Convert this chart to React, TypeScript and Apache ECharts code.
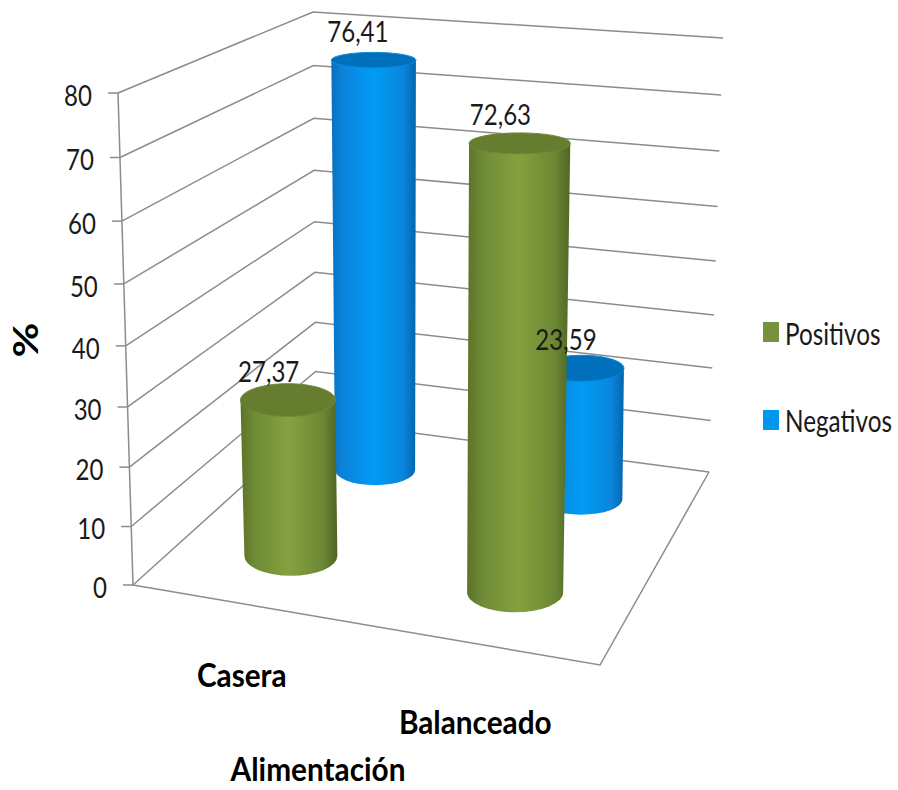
import React, { useEffect, useRef } from "react";
import * as echarts from "echarts";

// Chart data
const categories = ["Casera", "Balanceado"];
const positivos = [27.37, 72.63];
const negativos = [76.41, 23.59];
const axisTicks = [0, 10, 20, 30, 40, 50, 60, 70, 80];
const axisMax = 80;
const seriesNames = ["Positivos", "Negativos"];
const seriesColors = ["#76923c", "#0096f0"];
const axisTitle = "%";
const categoryTitle = "Alimentación";

// Scene geometry: the corners of the floor and of the walls at axisMax
const FLOOR = { left: [133, 585], front: [600, 665], right: [709, 472], back: [316, 420] };
const WALL_TOP = { left: [118, 93], back: [313, 12], right: [723, 38] };
// Full-scale height and horizontal lean of a column at each floor corner
const COLUMN_H = { left: 485, front: 524, right: 465, back: 390 };
const COLUMN_LEAN = { left: -22, front: 15.4, right: 1.9, back: 2.2 };
const FORESHORTEN = 0.056;
const BASE_LIFT = 6;

const FONT = "Lato, sans-serif";
const NARROW_X = 0.83;
const BOLD_X = 0.93;
const LINE = "#8c8c8c";
const INK = "#1a1a1a";

const bilinear = (l: number, f: number, r: number, b: number, u: number, v: number) =>
  (1 - u) * (1 - v) * l + u * (1 - v) * f + u * v * r + (1 - u) * v * b;

const corners = (c: { left: number; front: number; right: number; back: number }, u: number, v: number) =>
  bilinear(c.left, c.front, c.right, c.back, u, v);

const floorPoint = (u: number, v: number) => [
  bilinear(FLOOR.left[0], FLOOR.front[0], FLOOR.right[0], FLOOR.back[0], u, v),
  bilinear(FLOOR.left[1], FLOOR.front[1], FLOOR.right[1], FLOOR.back[1], u, v),
];

// Fraction of the axis reached by a value
const fraction = (api: any, value: number) => {
  const zero = api.coord([0, 0])[1];
  const full = api.coord([0, axisMax])[1];
  const s = (zero - api.coord([0, value])[1]) / (zero - full);
  return s * (1 - FORESHORTEN * (1 - s));
};

const mix = (a: number[], b: number[], s: number) => [a[0] + (b[0] - a[0]) * s, a[1] + (b[1] - a[1]) * s];

const cylinderGeometry = (params: any, api: any, depth: number) => {
  const cs = params.coordSys;
  const cat = api.value(0);
  const val = api.value(1);
  const u = (api.coord([cat, 0])[0] - cs.x) / cs.width;
  const s = fraction(api, val);
  const p = floorPoint(u, depth);
  const h = s * corners(COLUMN_H, u, depth);
  const lean = s * corners(COLUMN_LEAN, u, depth);
  const bx = p[0] + 4 * depth - 1;
  const by = p[1] - BASE_LIFT;
  const tx = bx + lean;
  const ty = by - h;
  const rxB = 50.5 - 13 * depth + 3 * (u - 0.5);
  const ryB = 22 - 9 * depth;
  const rxT = rxB * (1 + 0.06 * s);
  const ryT = ryB * (1 - 0.52 * s);
  return { bx, by, tx, ty, rxB, ryB, rxT, ryT };
};

const shade = (stops: [number, string][]) => ({
  type: "linear",
  x: 0,
  y: 0,
  x2: 1,
  y2: 0,
  colorStops: stops.map(([offset, color]) => ({ offset, color })),
});

const cylinderRenderer = (depth: number, body: [number, string][], cap: string, rim: string) => (params: any, api: any) => {
  const g = cylinderGeometry(params, api, depth);
  const d =
    `M${g.bx - g.rxB} ${g.by} L${g.tx - g.rxT} ${g.ty} L${g.tx + g.rxT} ${g.ty} L${g.bx + g.rxB} ${g.by} ` +
    `A${g.rxB} ${g.ryB} 0 0 1 ${g.bx - g.rxB} ${g.by} Z`;
  return {
    type: "group",
    children: [
      { type: "path", shape: { pathData: d }, style: { fill: shade(body) } },
      {
        type: "ellipse",
        shape: { cx: g.tx, cy: g.ty, rx: g.rxT, ry: g.ryT },
        style: { fill: cap, stroke: rim, lineWidth: 1 },
      },
    ],
  };
};

const renderWall = (params: any, api: any) => {
  const val = api.value(1);
  const s = fraction(api, val);
  const l = mix(FLOOR.left, WALL_TOP.left, s);
  const b = mix(FLOOR.back, WALL_TOP.back, s);
  const r = mix(FLOOR.right, WALL_TOP.right, s);
  const lineStyle = { stroke: LINE, lineWidth: 1.5, fill: "none" };
  const children: any[] = [
    { type: "polyline", shape: { points: [l, b, r] }, style: lineStyle },
    { type: "line", shape: { x1: l[0] - 10, y1: l[1], x2: l[0], y2: l[1] }, style: lineStyle },
    {
      type: "text",
      x: l[0] - 26,
      y: l[1] + 2,
      scaleX: NARROW_X,
      style: { text: String(val), font: `29px ${FONT}`, fill: INK, align: "right", verticalAlign: "middle" },
    },
  ];
  if (val === 0) {
    children.push({
      type: "polyline",
      shape: { points: [FLOOR.left, FLOOR.front, FLOOR.right] },
      style: lineStyle,
    });
    children.push({
      type: "line",
      shape: { x1: FLOOR.left[0], y1: FLOOR.left[1], x2: WALL_TOP.left[0], y2: WALL_TOP.left[1] },
      style: lineStyle,
    });
  }
  return { type: "group", children };
};

const renderCategoryLabel = (params: any, api: any) => {
  const cs = params.coordSys;
  const u = (api.coord([api.value(0), 0])[0] - cs.x) / cs.width;
  const p = floorPoint(u, 0);
  return {
    type: "text",
    x: p[0] - 8,
    y: p[1] + 66 + 15 * u,
    scaleX: BOLD_X,
    style: {
      text: categories[api.value(0)],
      font: `bold 32px ${FONT}`,
      fill: "#000",
      align: "center",
      verticalAlign: "middle",
    },
  };
};

const labelRenderer = (depth: number) => (params: any, api: any) => {
  const g = cylinderGeometry(params, api, depth);
  return {
    type: "text",
    x: g.tx - 21 + 7 * depth,
    y: g.ty - 29,
    scaleX: NARROW_X,
    style: {
      text: api.value(1).toFixed(2).replace(".", ","),
      font: `29px ${FONT}`,
      fill: INK,
      align: "center",
      verticalAlign: "middle",
    },
  };
};

const pointsOf = (values: number[]) => values.map((v, i) => [i, v]);

// Legend keys are laid out by hand because their labels are condensed horizontally
const legendEntries = seriesNames.flatMap((name, i) => [
  {
    type: "rect",
    shape: { x: 763, y: 322 + i * 88, width: 16, height: 20 },
    style: { fill: seriesColors[i] },
  },
  {
    type: "text",
    x: 785,
    y: 333 + i * 87,
    scaleX: 0.81,
    style: { text: name, font: `30px ${FONT}`, fill: INK, align: "left", verticalAlign: "middle" },
  },
]);

export default function App() {
  const ref = useRef<HTMLDivElement>(null);

  useEffect(() => {
    const chart = echarts.init(ref.current!, null, { renderer: "svg" });
    const common = {
      type: "custom",
      coordinateSystem: "cartesian2d",
      clip: false,
      silent: true,
    };
    chart.setOption({
      animation: false,
      backgroundColor: "#ffffff",
      grid: { left: 100, right: 100, top: 100, bottom: 100 },
      xAxis: { type: "category", data: categories, show: false },
      yAxis: { type: "value", min: 0, max: axisMax, interval: 10, show: false },
      graphic: [
        ...legendEntries,
        {
          type: "text",
          x: 25,
          y: 340,
          rotation: Math.PI / 2,
          scaleX: 1.25,
          style: {
            text: axisTitle,
            font: `bold 34px ${FONT}`,
            fill: "#000",
            align: "center",
            verticalAlign: "middle",
          },
        },
        {
          type: "text",
          x: 318,
          y: 769,
          scaleX: BOLD_X,
          style: {
            text: categoryTitle,
            font: `bold 32px ${FONT}`,
            fill: "#000",
            align: "center",
            verticalAlign: "middle",
          },
        },
      ],
      series: [
        {
          ...common,
          name: "Paredes",
          z: 1,
          data: axisTicks.map((t) => [0, t]),
          renderItem: renderWall,
        },
        {
          ...common,
          name: "Categorias",
          z: 1,
          data: categories.map((_, i) => [i, 0]),
          renderItem: renderCategoryLabel,
        },
        {
          ...common,
          name: seriesNames[1],
          z: 2,
          itemStyle: { color: seriesColors[1] },
          data: pointsOf(negativos),
          renderItem: cylinderRenderer(
            0.75,
            [
              [0, "#0a6fbe"],
              [0.12, "#0b82d8"],
              [0.5, "#009bf5"],
              [0.85, "#0a86dc"],
              [1, "#0565ad"],
            ],
            "#0070bd",
            "#0a8ad8"
          ),
        },
        {
          ...common,
          name: seriesNames[0],
          z: 3,
          itemStyle: { color: seriesColors[0] },
          data: pointsOf(positivos),
          renderItem: cylinderRenderer(
            0.25,
            [
              [0, "#5b7329"],
              [0.15, "#6f8b36"],
              [0.5, "#85a13f"],
              [0.85, "#6c8733"],
              [1, "#4f6623"],
            ],
            "#667c2e",
            "#71893a"
          ),
        },
        {
          ...common,
          name: "EtiquetasNegativos",
          z: 4,
          data: pointsOf(negativos),
          renderItem: labelRenderer(0.75),
        },
        {
          ...common,
          name: "EtiquetasPositivos",
          z: 4,
          data: pointsOf(positivos),
          renderItem: labelRenderer(0.25),
        },
      ],
    });
    return () => chart.dispose();
  }, []);

  return <div ref={ref} style={{ position: "absolute", left: 0, top: 0, width: 898, height: 790 }} />;
}
